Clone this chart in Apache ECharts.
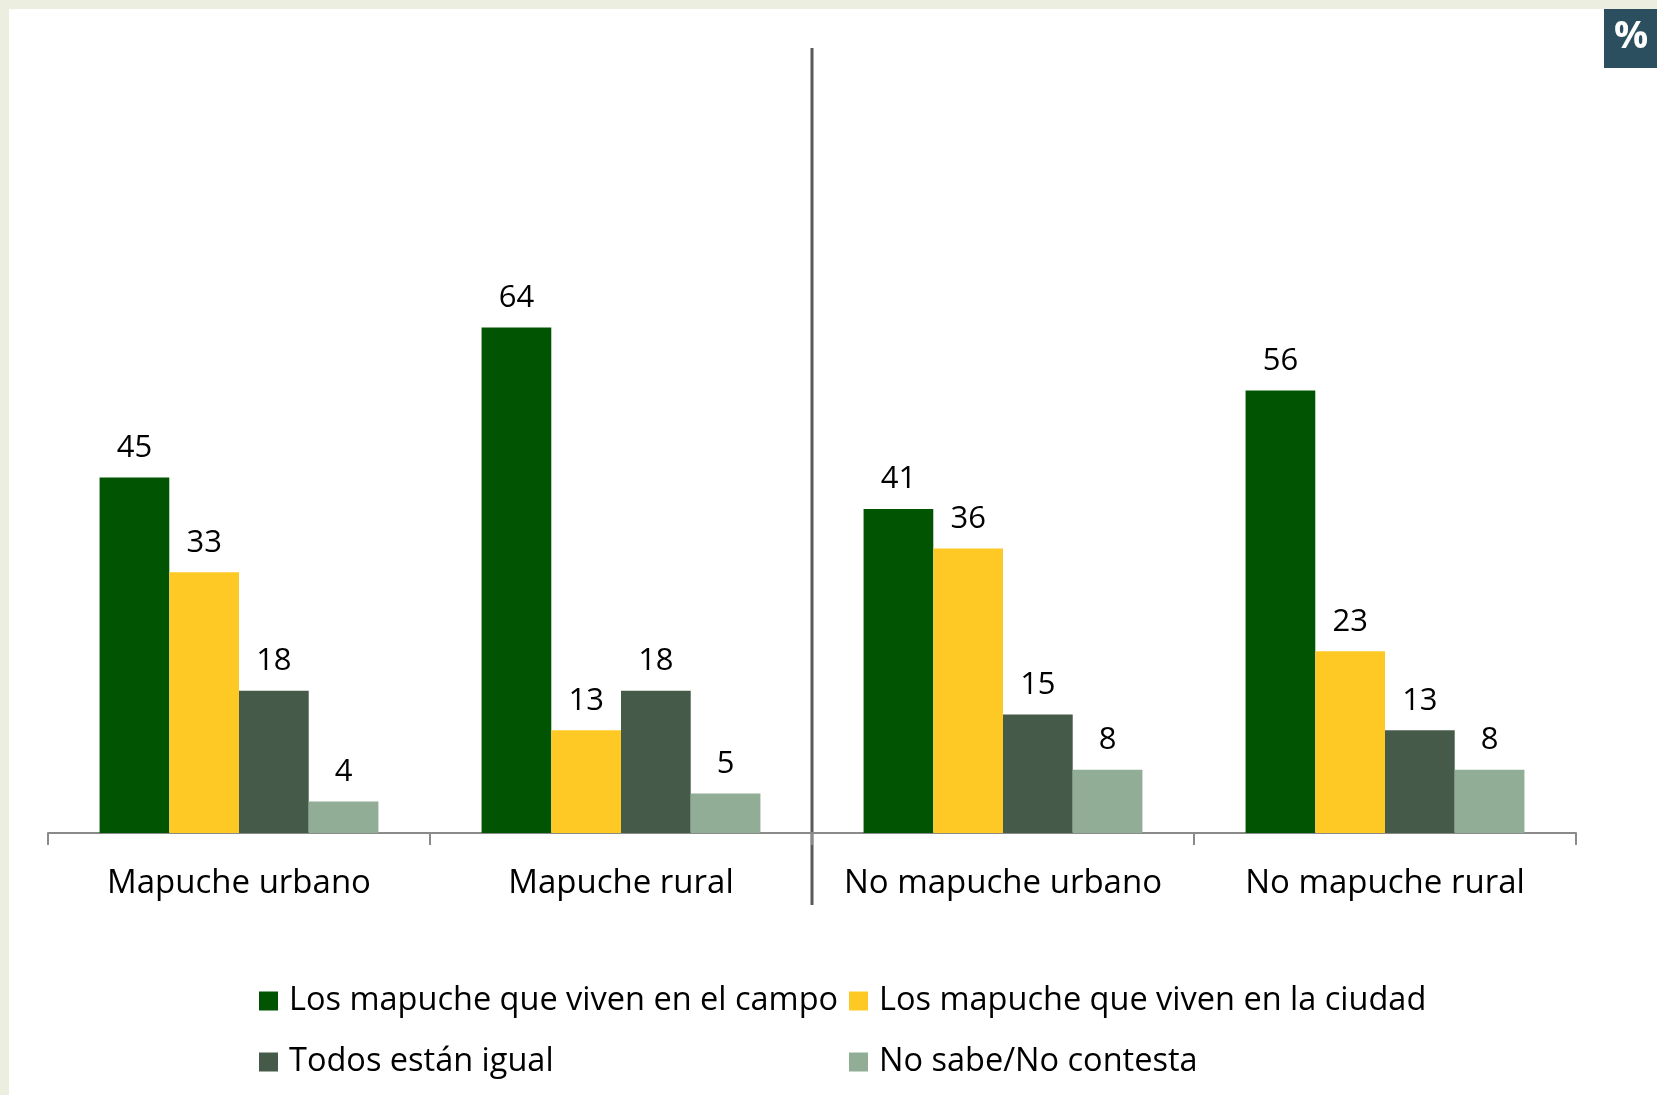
<!DOCTYPE html>
<html><head><meta charset="utf-8">
<script src="https://cdn.jsdelivr.net/npm/echarts@6/dist/echarts.min.js"></script>
<style>html,body{margin:0;padding:0;background:#fff;}#c{width:1657px;height:1095px;}</style>
</head><body><div id="c"></div>
<script>
const categories = ["Mapuche urbano", "Mapuche rural", "No mapuche urbano", "No mapuche rural"];
const seriesNames = ["Los mapuche que viven en el campo", "Los mapuche que viven en la ciudad", "Todos están igual", "No sabe/No contesta"];
const campo = [45, 64, 41, 56];
const ciudad = [33, 13, 36, 23];
const igual = [18, 18, 15, 13];
const nsnc = [4, 5, 8, 8];
const colors = ["#015401", "#fec925", "#465a4a", "#92ad96"];

const FONT = "Open Sans";
const FS = 31;
const values = [campo, ciudad, igual, nsnc];
const chart = echarts.init(document.getElementById('c'), null, {renderer: 'canvas'});
const series = values.map((v, i) => ({
  name: seriesNames[i], type: 'bar', data: v, barGap: '0%', barCategoryGap: '27%',
  itemStyle: {color: colors[i]},
  label: {show: true, position: 'top', distance: 14, color: '#000', fontFamily: FONT, fontSize: FS},
  emphasis: {disabled: true}
}));
const legendText = {color: '#000', fontFamily: FONT, fontSize: 32.5, padding: [0, 0, 0, 6], lineHeight: 36};
chart.setOption({
  animation: false,
  backgroundColor: '#fff',
  grid: {left: 48, right: 81, top: 43, bottom: 262},
  xAxis: {type: 'category', data: categories,
    axisLine: {lineStyle: {color: '#8a8a8a', width: 2}},
    axisTick: {show: true, length: 12, lineStyle: {color: '#8a8a8a', width: 2}},
    axisLabel: {color: '#000', fontFamily: FONT, fontSize: 33, margin: 34, interval: 0}},
  yAxis: {type: 'value', min: 0, max: 100, show: false},
  legend: [
    {orient: 'vertical', left: 254, top: 978, itemWidth: 19, itemHeight: 19, itemGap: 25, icon: 'rect',
     data: [seriesNames[0], seriesNames[2]], textStyle: legendText, selectedMode: false},
    {orient: 'vertical', left: 844, top: 978, itemWidth: 19, itemHeight: 19, itemGap: 25, icon: 'rect',
     data: [seriesNames[1], seriesNames[3]], textStyle: legendText, selectedMode: false}
  ],
  series: series
});
const x1 = chart.convertToPixel({xAxisIndex: 0}, categories[1]);
const x2 = chart.convertToPixel({xAxisIndex: 0}, categories[2]);
const sepX = (x1 + x2) / 2;
chart.setOption({
  graphic: [
    {type: 'rect', shape: {x: 0, y: 0, width: 1657, height: 9}, style: {fill: '#eceedf'}, silent: true},
    {type: 'rect', shape: {x: 0, y: 0, width: 9, height: 1095}, style: {fill: '#eceedf'}, silent: true},
    {type: 'line', shape: {x1: sepX, y1: 48, x2: sepX, y2: 905}, style: {stroke: '#595959', lineWidth: 3}, silent: true},
    {type: 'rect', shape: {x: 1604, y: 9, width: 53, height: 59}, style: {fill: '#2b4f5e'}, silent: true},
    {type: 'text', left: 1614, top: 18, style: {text: '%', fill: '#fff', fontFamily: FONT, fontWeight: 'bold', fontSize: 38}, silent: true}
  ]
});
</script></body></html>
